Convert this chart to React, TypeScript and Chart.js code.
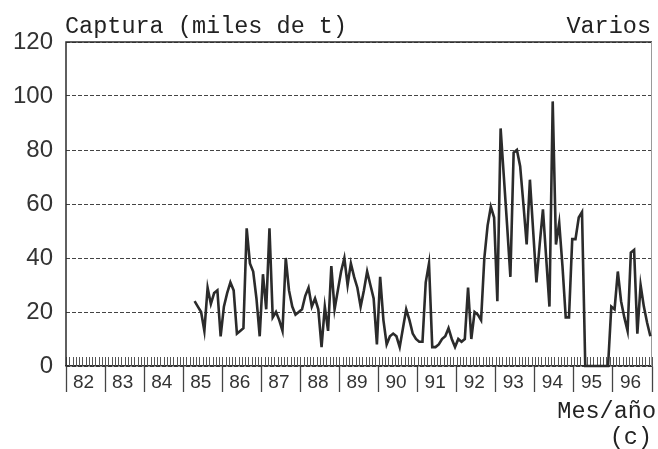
import React, { useEffect, useRef } from "react";
import { Chart, registerables } from "chart.js";

Chart.register(...registerables);

// Year labels (one per calendar year, 1982-1996)
const yearLabels = ["82", "83", "84", "85", "86", "87", "88", "89", "90", "91", "92", "93", "94", "95", "96"];

// Monthly series starts at month index 39 (April 1985), index 0 = January 1982
const firstMonthIndex = 39;

// Catch (thousand t), monthly, Apr 1985 - Dec 1996
const captura = [
  24, 22, 20, 13, 29, 23, 27, 28, 11, // 1985 Apr-Dec
  22, 27, 31, 28, 12, 13, 14, 51, 38, 35, 25, 11, // 1986
  34, 21, 51, 18, 20, 17, 13, 40, 28, 22, 19, 20, // 1987
  21, 26, 29, 22, 25, 21, 7, 22, 13, 37, 21, 28, // 1988
  35, 40, 30, 38, 33, 29, 22, 28, 35, 30, 25, 8, // 1989
  33, 17, 8, 11, 12, 11, 7, 14, 21, 17, 12, 10, // 1990
  9, 9, 31, 38, 7, 7, 8, 10, 11, 14, 10, 7, // 1991
  10, 9, 10, 29, 10, 20, 19, 17, 40, 52, 59, 55, // 1992
  24, 88, 70, 52, 33, 79, 80, 74, 60, 45, 69, 50, // 1993
  31, 45, 58, 40, 22, 98, 45, 53, 37, 18, 18, 47, // 1994
  47, 55, 57, 0, 0, 0, 0, 0, 0, 0, 0, 22, // 1995
  21, 35, 24, 18, 13, 42, 43, 12, 30, 22, 16, 11, // 1996
];

const yTicks = [0, 20, 40, 60, 80, 100, 120];

const INK = "#2b2b2b";
const LABEL_OFFSET = 5.4; // year label position within the year (months)

export default function App() {
  const canvasRef = useRef<HTMLCanvasElement | null>(null);

  useEffect(() => {
    const canvas = canvasRef.current;
    if (!canvas) return;

    const points = captura.map((v, k) => ({ x: firstMonthIndex + k + 0.5, y: v }));
    const totalMonths = yearLabels.length * 12;

    const framePlugin = {
      id: "frameAndMinorTicks",
      beforeDatasetsDraw(chart: any) {
        const { ctx, chartArea, scales } = chart;
        const { left, right, top, bottom } = chartArea;
        const x = scales.x;
        ctx.save();
        // monthly minor ticks inside the plot
        ctx.strokeStyle = "#555";
        ctx.lineWidth = 1;
        ctx.beginPath();
        for (let k = 0; k <= totalMonths; k++) {
          const px = Math.round(x.getPixelForValue(k)) + 0.5;
          ctx.moveTo(px, bottom);
          ctx.lineTo(px, bottom - 9);
        }
        ctx.stroke();
        // frame
        ctx.strokeStyle = INK;
        ctx.lineWidth = 1.5;
        ctx.beginPath();
        ctx.moveTo(left, bottom);
        ctx.lineTo(left, top);
        ctx.lineTo(right, top);
        ctx.stroke();
        ctx.strokeStyle = "#9a9a9a";
        ctx.lineWidth = 1;
        ctx.beginPath();
        ctx.moveTo(right - 0.5, top);
        ctx.lineTo(right - 0.5, bottom);
        ctx.stroke();
        ctx.restore();
      },
    };

    const chart = new Chart(canvas, {
      type: "line",
      data: {
        datasets: [
          {
            data: points,
            borderColor: INK,
            borderWidth: 2.6,
            pointRadius: 0,
            tension: 0,
            fill: false,
            clip: { left: 4, right: 4, top: 4, bottom: 4 } as any,
          },
        ],
      },
      options: {
        animation: false,
        responsive: true,
        maintainAspectRatio: false,
        layout: { padding: { left: 0, right: 6, top: 42, bottom: 0 } },
        plugins: {
          legend: { display: false },
          tooltip: { enabled: false },
        },
        scales: {
          x: {
            type: "linear",
            min: 0,
            max: totalMonths,
            afterBuildTicks: (scale: any) => {
              const t = [];
              for (let y = 0; y <= yearLabels.length; y++) {
                t.push({ value: y * 12 });
                if (y < yearLabels.length) t.push({ value: y * 12 + LABEL_OFFSET });
              }
              scale.ticks = t;
            },
            afterFit: (scale: any) => {
              scale.height = 83;
            },
            ticks: {
              autoSkip: false,
              maxRotation: 0,
              minRotation: 0,
              padding: -21,
              color: "#333",
              font: { family: "'Liberation Sans', Arial, sans-serif", size: 19 },
              callback: (value: any) => {
                const v = Number(value);
                const yi = Math.floor(v / 12);
                return Math.abs(v - yi * 12 - LABEL_OFFSET) < 0.01 ? yearLabels[yi] : "";
              },
            },
            grid: {
              drawOnChartArea: false,
              drawTicks: true,
              tickLength: 26,
              tickWidth: 1.3,
              tickColor: (ctx: any) =>
                ctx.tick && Math.abs(Number(ctx.tick.value) % 12) < 0.01 ? "#444" : "rgba(0,0,0,0)",
            },
            border: { display: true, color: INK, width: 1.5 },
          },
          y: {
            min: 0,
            max: 120,
            afterBuildTicks: (scale: any) => {
              scale.ticks = yTicks.map((v) => ({ value: v }));
            },
            afterFit: (scale: any) => {
              scale.width = 66;
            },
            ticks: {
              padding: 13,
              color: "#333",
              font: { family: "'Liberation Sans', Arial, sans-serif", size: 24 },
            },
            grid: {
              drawTicks: false,
              color: "#444",
              lineWidth: 1,
            },
            border: { display: false, dash: [4, 2] },
          },
        },
      },
      plugins: [framePlugin],
    });

    return () => chart.destroy();
  }, []);

  const mono = "'Liberation Mono', 'Courier New', monospace";
  const textStyle: React.CSSProperties = {
    position: "absolute",
    fontFamily: mono,
    fontSize: "23.5px",
    lineHeight: 1,
    color: "#222",
    whiteSpace: "nowrap",
  };

  return (
    <div style={{ position: "absolute", left: 0, top: 0, width: 658, height: 449, background: "#fff" }}>
      <canvas ref={canvasRef} />
      <div style={{ ...textStyle, left: 65, top: 15 }}>Captura (miles de t)</div>
      <div style={{ ...textStyle, right: 7, top: 15 }}>Varios</div>
      <div style={{ ...textStyle, right: 2, top: 400 }}>Mes/año</div>
      <div style={{ ...textStyle, right: 6, top: 426 }}>(c)</div>
    </div>
  );
}
